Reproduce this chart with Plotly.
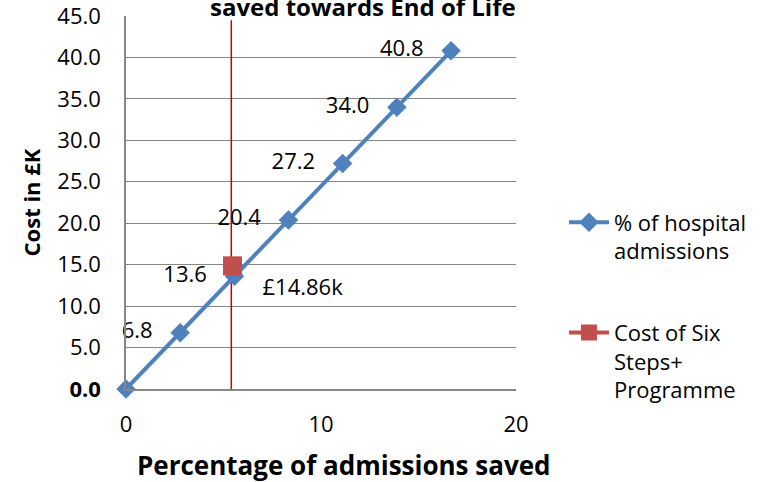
import plotly.graph_objects as go

# Data
pct_saved = [0, 2.78, 5.56, 8.33, 11.11, 13.89, 16.67]
cost_k = [0, 6.8, 13.6, 20.4, 27.2, 34.0, 40.8]
cost_labels = ["", "6.8", "13.6", "20.4", "27.2", "34.0", "40.8"]
programme_pct = [5.46]
programme_cost = [14.86]
programme_label = ["£14.86k"]
vline_x = [5.4, 5.4]
vline_y = [0, 44.5]
y_ticks = [0, 5, 10, 15, 20, 25, 30, 35, 40, 45]
y_ticktext = ["<b>0.0</b>", "5.0", "10.0", "15.0", "20.0", "25.0", "30.0", "35.0", "40.0", "45.0"]
x_ticks = [0, 10, 20]

FONT = "'Open Sans', Lato, sans-serif"
BLUE = "#4F81BD"
RED = "#C0504D"
NB = "\u00a0"

fig = go.Figure()

fig.add_trace(go.Scatter(
    x=vline_x, y=vline_y, mode="lines",
    line=dict(color="#D00000", width=1.5),
    showlegend=False, hoverinfo="skip",
))

fig.add_trace(go.Scatter(
    x=pct_saved, y=cost_k, mode="lines+markers+text",
    name="% of hospital<br>admissions",
    line=dict(color=BLUE, width=4),
    marker=dict(symbol="diamond", size=15, color=BLUE),
    text=[t + NB * 3 if t else t for t in cost_labels],
    textposition="middle left",
    textfont=dict(family=FONT, size=22, color="black"),
    legendgroup="a", cliponaxis=False,
))

fig.add_trace(go.Scatter(
    x=programme_pct, y=programme_cost, mode="lines+markers+text",
    name="Cost of Six<br>Steps+<br>Programme",
    line=dict(color=RED, width=4),
    marker=dict(symbol="square", size=19, color=RED),
    text=[NB * 3 + t for t in programme_label], textposition="bottom right",
    textfont=dict(family=FONT, size=22, color="black"),
    legendgroup="b", cliponaxis=False,
))

fig.update_layout(
    width=771, height=482,
    margin=dict(l=126, r=255, t=16, b=93),
    paper_bgcolor="white", plot_bgcolor="white",
    font=dict(family=FONT, size=22, color="black"),
    xaxis=dict(
        range=[0, 20], tickvals=x_ticks, showgrid=False,
        showline=True, linecolor="#868686", linewidth=1.5,
        zeroline=False, ticks="", ticklabelstandoff=15,
        ticklabeloverflow="allow",
        tickfont=dict(family=FONT, size=22), automargin=False,
    ),
    yaxis=dict(
        range=[0, 45], tickvals=y_ticks, ticktext=y_ticktext,
        showgrid=True, gridcolor="#868686", gridwidth=1.2,
        showline=True, linecolor="#868686", linewidth=1.5,
        zeroline=False, ticks="", ticklabelstandoff=19,
        ticklabeloverflow="allow",
        tickfont=dict(family=FONT, size=22), automargin=False,
        title=dict(text="<b>Cost in £K</b>",
                   font=dict(family=FONT, size=22), standoff=11),
    ),
    legend=dict(
        x=1.123, y=0.503, xanchor="left", yanchor="top",
        font=dict(family=FONT, size=22),
        valign="top", tracegroupgap=50, traceorder="grouped",
        itemwidth=40, bgcolor="rgba(0,0,0,0)",
    ),
    annotations=[
        dict(
            text="<b>saved towards End of Life</b>",
            xref="paper", yref="paper", x=0.608, y=1.0268,
            xanchor="center", yanchor="middle", showarrow=False,
            font=dict(family=FONT, size=24, color="black"),
        ),
        dict(
            text="<b>Percentage of admissions saved</b>",
            xref="paper", yref="paper", x=0.559, y=-0.204,
            xanchor="center", yanchor="middle", showarrow=False,
            font=dict(family=FONT, size=26, color="black"),
        ),
    ],
)

fig.write_html("out.html", config={"displayModeBar": False},
               post_script="document.body.style.margin='0';")
